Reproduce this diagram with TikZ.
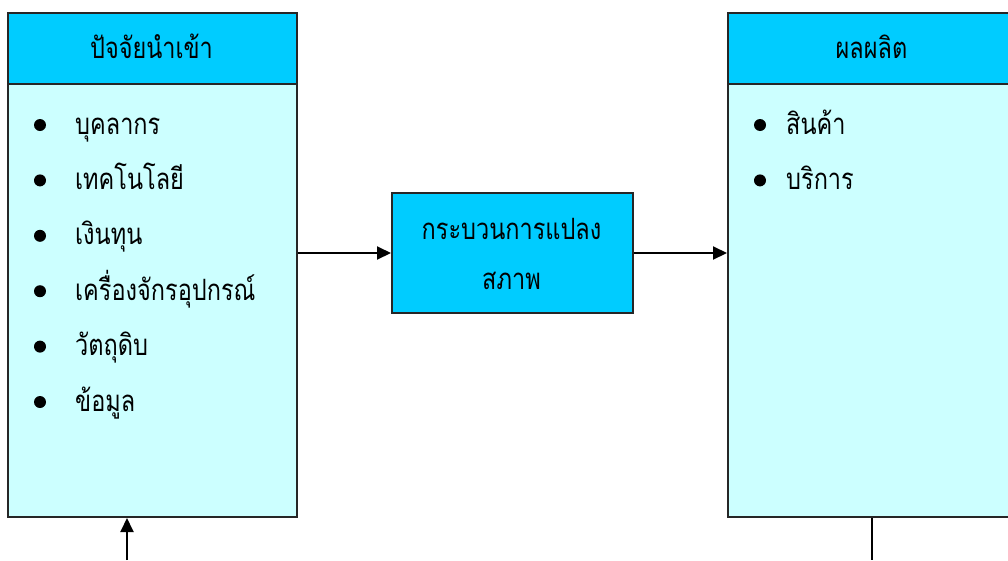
\documentclass[tikz,border=0pt]{standalone}
\usepackage{fontspec}
\newfontfamily\thaifont[Script=Thai]{Loma}
\usetikzlibrary{arrows.meta}
\definecolor{headblue}{HTML}{00CCFF}
\definecolor{bodyblue}{HTML}{CCFFFF}
\newcommand\thaisize{\thaifont\fontsize{23.5}{28}\selectfont}
% Thai text set slightly taller than the font's own proportions
\newcommand\tall[1]{\scalebox{1}[1.25]{#1}}
\begin{document}
\begin{tikzpicture}[x=1pt,y=-1pt,
  box/.style={draw=black!85,line width=2pt,inner sep=0pt,anchor=north west},
  head/.style={box,fill=headblue,minimum width=289pt,minimum height=71pt},
  body/.style={box,fill=bodyblue,minimum width=289pt,minimum height=433pt},
  proc/.style={box,fill=headblue,minimum width=241pt,minimum height=120pt},
  label/.style={anchor=base,inner sep=0pt,font=\thaisize},
  item/.style={anchor=base west,inner sep=0pt,font=\thaisize},
  dot/.style={circle,fill=black,inner sep=0pt,minimum size=12pt},
  flow/.style={line width=2pt,-{Triangle[length=14pt,width=13pt]}},
  wire/.style={line width=2pt}]
\useasboundingbox (0,0) rectangle (1008,560);
\clip (0,0) rectangle (1008,560);
% input column
\node[body] (inbody) at (7,83) {};
\node[head] (inhead) at (7,12) {};
\node[label] (intitle) at (151.5,58) {\tall{ปัจจัยนำเข้า}};
% output column
\node[body] (outbody) at (727,83) {};
\node[head] (outhead) at (727,12) {};
\node[label] (outtitle) at (871.5,58) {\tall{ผลผลิต}};
% transformation process
\node[proc] (proc) at (391,192) {};
\node[label] (proc1) at (511.5,239) {\tall{กระบวนการแปลง}};
\node[label] (proc2) at (511.5,289) {\tall{สภาพ}};
% input list
\foreach \t [count=\i] in {บุคลากร,เทคโนโลยี,เงินทุน,เครื่องจักรอุปกรณ์,วัตถุดิบ,ข้อมูล}{
  \node[dot] (ind\i) at (40,{125+55.4*(\i-1)}) {};
  \node[item] (init\i) at (75,{134+55.4*(\i-1)}) {\tall{\t}};
}
% output list
\foreach \t [count=\i] in {สินค้า,บริการ}{
  \node[dot] (outd\i) at (760,{125+55.4*(\i-1)}) {};
  \node[item] (outit\i) at (786,{134+55.4*(\i-1)}) {\tall{\t}};
}
% connectors
\coordinate (feedin) at (127,560);
\coordinate (feedout) at (872,560);
\draw[flow] (proc.west -| inbody.east) -- (proc.west);
\draw[flow] (proc.east) -- (proc.east -| outbody.west);
\draw[flow] (feedin) -- (feedin |- inbody.south);
\draw[wire] (feedout |- outbody.south) -- (feedout);
\end{tikzpicture}
\end{document}
